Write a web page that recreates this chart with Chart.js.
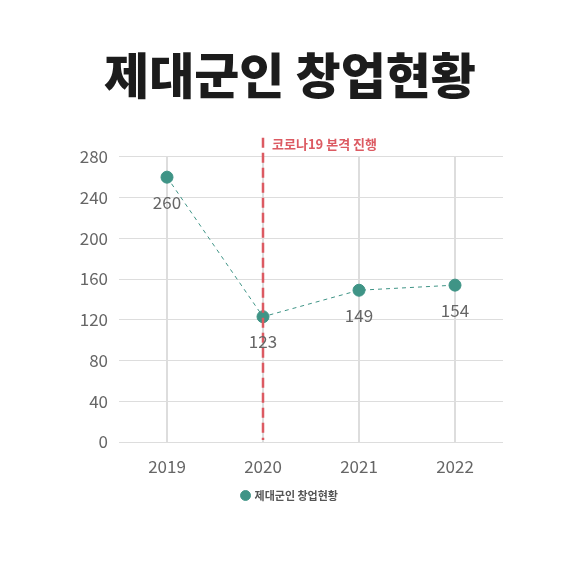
<!DOCTYPE html>
<html>
<head>
<meta charset="utf-8">
<script src="https://cdn.jsdelivr.net/npm/chart.js@4.4.1/dist/chart.umd.min.js"></script>
<style>
  html, body { margin: 0; padding: 0; background: #fff; }
  #wrap { width: 580px; height: 580px; }
</style>
</head>
<body>
<div id="wrap"><canvas id="chart" width="580" height="580"></canvas></div>
<script>
const years = ['2019', '2020', '2021', '2022'];
const startups = [260, 123, 149, 154];
const yTicks = [0, 40, 80, 120, 160, 200, 240, 280];
const markerYear = '2020';
const markerText = '코로나19 본격 진행';

const teal = '#3f9486';
const red = '#dc5a62';
const grey = '#666666';
const kr = "'Noto Sans CJK KR', 'Noto Sans', sans-serif";

// red dashed line at 2020 with its caption
const markerLine = {
  id: 'markerLine',
  afterDatasetsDraw(chart) {
    const { ctx, chartArea, scales } = chart;
    const x = scales.x.getPixelForValue(years.indexOf(markerYear));
    ctx.save();
    ctx.strokeStyle = red;
    ctx.lineWidth = 2.5;
    ctx.setLineDash([10, 5]);
    ctx.beginPath();
    ctx.moveTo(x, chartArea.top - 19);
    ctx.lineTo(x, chartArea.bottom - 2);
    ctx.stroke();
    ctx.setLineDash([]);
    ctx.fillStyle = red;
    ctx.font = `bold 13px ${kr}`;
    ctx.textBaseline = 'middle';
    ctx.fillText(markerText, x + 9, chartArea.top - 13);
    ctx.restore();
  }
};

// value labels under each point
const valueLabels = {
  id: 'valueLabels',
  afterDatasetsDraw(chart) {
    const { ctx } = chart;
    const meta = chart.getDatasetMeta(0);
    ctx.save();
    ctx.fillStyle = grey;
    ctx.font = `17px ${kr}`;
    ctx.textAlign = 'center';
    ctx.textBaseline = 'middle';
    meta.data.forEach((pt, i) => {
      ctx.fillText(String(startups[i]), pt.x, pt.y + 25);
    });
    ctx.restore();
  }
};

new Chart(document.getElementById('chart'), {
  type: 'line',
  data: {
    labels: years,
    datasets: [{
      label: '제대군인 창업현황',
      data: startups,
      borderColor: teal,
      backgroundColor: teal,
      pointBackgroundColor: teal,
      pointBorderColor: teal,
      borderWidth: 1,
      borderDash: [4, 4],
      pointRadius: 6,
      pointHoverRadius: 6,
      tension: 0
    }]
  },
  options: {
    responsive: false,
    animation: false,
    devicePixelRatio: 1,
    layout: { padding: { left: 0, right: 0, top: 0, bottom: 69 } },
    plugins: {
      title: {
        display: true,
        text: '제대군인 창업현황',
        color: '#1c1c1c',
        font: { family: kr, size: 49, weight: '900' },
        padding: { top: 46, bottom: 52 }
      },
      legend: {
        position: 'bottom',
        labels: {
          usePointStyle: true,
          pointStyle: 'circle',
          boxWidth: 7,
          boxHeight: 7,
          color: '#555',
          font: { family: kr, size: 11, weight: 'bold' },
          padding: 10
        }
      },
      tooltip: { enabled: false }
    },
    scales: {
      x: {
        offset: true,
        grid: { color: '#dddddd', lineWidth: 2, offset: false, drawTicks: false },
        border: { display: false },
        ticks: { color: grey, font: { family: kr, size: 17 }, padding: 14 },
        afterFit(scale) { scale.height = 38; }
      },
      y: {
        min: 0,
        max: 280,
        afterBuildTicks(scale) { scale.ticks = yTicks.map(v => ({ value: v })); },
        grid: { color: '#dddddd', lineWidth: 1, drawTicks: false },
        border: { display: false },
        ticks: { color: grey, font: { family: kr, size: 17 }, padding: 11 },
        afterFit(scale) { scale.width = 119; }
      },
      // empty right axis, only reserves the right margin
      yRight: {
        position: 'right',
        min: 0,
        max: 280,
        grid: { display: false, drawTicks: false },
        border: { display: false },
        ticks: { display: false },
        afterFit(scale) { scale.width = 77; }
      }
    }
  },
  plugins: [markerLine, valueLabels]
});
</script>
</body>
</html>
